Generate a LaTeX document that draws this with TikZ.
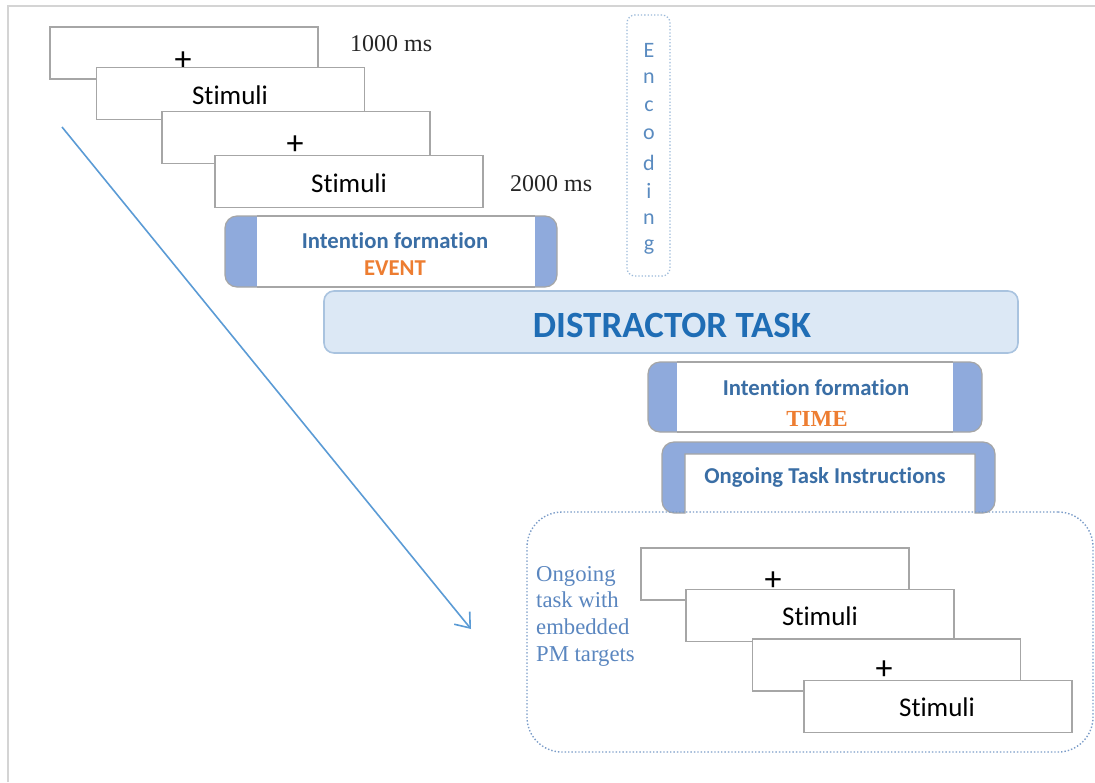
\documentclass[tikz,border=0pt]{standalone}
\usepackage{fontspec}
\setmainfont{Liberation Serif}
\newfontfamily\calfont{Carlito}[RawFeature={-liga;-clig;-calt;-dlig}]
\usetikzlibrary{arrows.meta}

% keep t and i as separate glyphs
\newcommand\tisep{t\kern0pt i}

\definecolor{framegray}{HTML}{D4D4D4}
\definecolor{slidegray}{HTML}{A6A6A6}
\definecolor{barblue}{HTML}{8FAADC}
\definecolor{bartext}{HTML}{3A6EA5}
\definecolor{evtorange}{HTML}{ED7D31}
\definecolor{dtfill}{HTML}{DCE8F5}
\definecolor{dtdraw}{HTML}{A9C3DF}
\definecolor{dttext}{HTML}{1F6DB5}
\definecolor{enctext}{HTML}{5A8BC0}
\definecolor{encdraw}{HTML}{9AB8D8}
\definecolor{arrowblue}{HTML}{5B9BD5}
\definecolor{ogtext}{HTML}{5A86BF}
\definecolor{ogdraw}{HTML}{7B9CC8}

\tikzset{
  slidebox/.style={draw=slidegray, fill=white, line width=1.3pt, inner sep=0pt,
    minimum width=268pt, minimum height=52pt},
  stimtxt/.style={font=\calfont\fontsize{27}{32}\selectfont, text=black, inner sep=0pt},
  plustxt/.style={font=\calfont\fontsize{34}{38}\selectfont, text=black, inner sep=0pt},
  mstxt/.style={font=\fontsize{24}{28}\selectfont, text=black!85, anchor=west, inner sep=0pt},
  bartxt/.style={font=\calfont\bfseries\fontsize{22.7}{26}\selectfont, text=bartext, inner sep=0pt},
  orangetxt/.style={text=evtorange, inner sep=0pt},
  enctxt/.style={font=\calfont\fontsize{22}{26}\selectfont, text=enctext, inner sep=0pt},
  ogtxt/.style={font=\fontsize{22.7}{26.6}\selectfont, text=ogtext, align=left,
    anchor=north west, inner sep=0pt},
  graybox/.style={draw=slidegray, line width=1.2pt},
}

\begin{document}
\begin{tikzpicture}[x=1pt, y=-1pt]
\useasboundingbox (0,0) rectangle (1095,782);

% page frame
\draw[framegray, line width=2.5pt] (8,782) -- (8,6) -- (1095,6);

% diagonal time arrow
\coordinate (arrS) at (62,127);
\coordinate (arrE) at (471,629);
\draw[arrowblue, line width=1.6pt, -{Straight Barb[length=13pt,width=20pt,line width=1.6pt]}] (arrS) -- (arrE);

% encoding sequence
\node[slidebox] (s1) at (184,53) {};
\node[plustxt] (p1) at (183,61) {+};
\node[slidebox] (s2) at (230.5,93.5) {};
\node[stimtxt] (t2) at (230,95) {Stimuli};
\node[slidebox] (s3) at (296,137.5) {};
\node[plustxt] (p3) at (295,145) {+};
\node[slidebox] (s4) at (349,181.5) {};
\node[stimtxt] (t4) at (349,183) {Stimuli};
\node[mstxt] (ms1) at (350,44) {1000 ms};
\node[mstxt] (ms2) at (510,184) {2000 ms};

% encoding label
\node[draw=encdraw, dotted, line width=1.3pt, rounded corners=8pt,
      minimum width=43pt, minimum height=261pt] (enc) at (648.5,145.5) {};
\foreach \ch [count=\i from 0] in {E,n,c,o,d,i,n,g}
  \node[enctxt] (enc\i) at (649,{50+28.2*\i}) {\ch};

% intention formation (event)
\filldraw[fill=barblue, draw=slidegray, line width=1.2pt, rounded corners=12pt]
  (225,216) rectangle (557,287);
\fill[white] (257,216.6) rectangle (535,286.4);
\draw[graybox] (257,216) -- (535,216) (257,287) -- (535,287);
\node[inner sep=0pt, minimum width=332pt, minimum height=71pt] (evt) at (391,251.5) {};
\node[bartxt] (evt1) at (395,241) {Inten\tisep on formation};
\node[bartxt, orangetxt] (evt2) at (395,268) {EVENT};

% distractor task
\node[draw=dtdraw, fill=dtfill, line width=1.6pt, rounded corners=10pt,
      minimum width=694pt, minimum height=62pt] (dt) at (671,322) {};
\node[font=\calfont\bfseries\fontsize{37}{42}\selectfont, text=dttext, inner sep=0pt]
  (dtt) at (672,325) {DISTRACTOR TASK};

% intention formation (time)
\filldraw[fill=barblue, draw=slidegray, line width=1.2pt, rounded corners=12pt]
  (648,362) rectangle (982,432);
\fill[white] (677,362.6) rectangle (953,431.4);
\draw[graybox] (677,362) -- (953,362) (677,432) -- (953,432);
\node[inner sep=0pt, minimum width=334pt, minimum height=70pt] (tim) at (815,397) {};
\node[bartxt] (tim1) at (816,388) {Inten\tisep on formation};
\node[orangetxt, font=\bfseries\fontsize{23}{26}\selectfont] (tim2) at (817,419) {TIME};

% ongoing task instructions
\filldraw[fill=barblue, draw=slidegray, line width=1.2pt]
  (685,513) [rounded corners=12pt] -- (662,513) -- (662,442) -- (995,442) -- (995,513)
  [sharp corners] -- (975,513) -- (975,454) -- (685,454) -- cycle;
\fill[white] (686,455) rectangle (974,514);
\node[inner sep=0pt, minimum width=333pt, minimum height=71pt] (ins) at (828.5,477.5) {};
\node[bartxt] (ins1) at (825,477) {Ongoing Task Instruc\tisep ons};

% ongoing task block
\node[draw=ogdraw, dotted, line width=1.4pt, rounded corners=35pt,
      minimum width=566pt, minimum height=240pt] (og) at (810,632) {};
\node[ogtxt] (ogt) at (536,566) {Ongoing\\task with\\embedded\\PM targets};
\node[slidebox] (b1) at (775,574) {};
\node[plustxt] (bp1) at (773,581) {+};
\node[slidebox] (b2) at (820,615.5) {};
\node[stimtxt] (bt2) at (820,616) {Stimuli};
\node[slidebox] (b3) at (886.5,665) {};
\node[plustxt] (bp3) at (884,670) {+};
\node[slidebox] (b4) at (938,706.5) {};
\node[stimtxt] (bt4) at (937,707) {Stimuli};
\end{tikzpicture}
\end{document}
